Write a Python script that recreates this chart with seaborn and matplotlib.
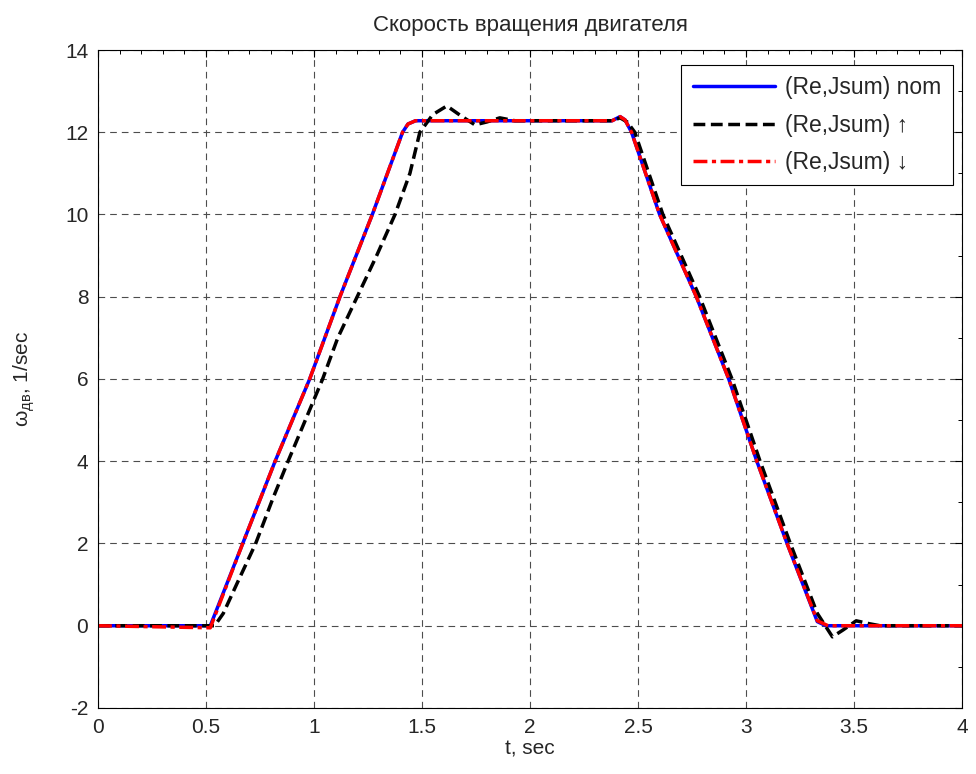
import numpy as np
import pandas as pd
import seaborn as sns
import matplotlib.pyplot as plt
from matplotlib.ticker import FormatStrFormatter, MultipleLocator

# скорость вращения двигателя, точки
t_nom = [0, 0.52, 0.67, 0.82, 0.98, 1.12, 1.27, 1.41, 1.435, 1.47, 2.38, 2.417, 2.44,
         2.47, 2.60, 2.77, 2.92, 3.05, 3.19, 3.33, 3.37, 4.0]
w_nom = [0, 0, 2.0, 4.0, 6.0, 8.0, 10.0, 12.0, 12.2, 12.28, 12.28, 12.38, 12.3,
         12.0, 10.0, 8.0, 6.0, 4.0, 2.0, 0.1, 0, 0]

t_up = [0, 0.54, 0.58, 0.65, 0.73, 0.81, 0.88, 0.96, 1.04, 1.11, 1.20, 1.29, 1.375,
        1.444, 1.49, 1.55, 1.615, 1.68, 1.745, 1.80, 1.86, 1.93, 2.38, 2.417, 2.45,
        2.485, 2.615, 2.785, 2.935, 3.065, 3.205, 3.33, 3.40, 3.45, 3.51, 3.57, 3.62, 4.0]
w_up = [0, 0, 0.3, 1.1, 2.0, 3.1, 4.0, 5.0, 6.0, 7.0, 8.0, 9.0, 10.0,
        11.0, 12.0, 12.43, 12.64, 12.4, 12.18, 12.25, 12.35, 12.28, 12.28, 12.35, 12.25,
        12.0, 10.0, 8.0, 6.0, 4.0, 2.0, 0.3, -0.27, -0.1, 0.12, 0.05, 0, 0]

t_down = [0, 0.52, 0.67, 0.82, 0.98, 1.12, 1.27, 1.41, 1.435, 1.47, 2.38, 2.417, 2.44,
          2.47, 2.60, 2.77, 2.92, 3.05, 3.19, 3.33, 3.38, 4.0]
w_down = [0, -0.05, 2.0, 4.0, 6.0, 8.0, 10.0, 12.0, 12.2, 12.28, 12.28, 12.38, 12.3,
          12.0, 10.0, 8.0, 6.0, 4.0, 2.0, 0.12, 0, 0]

labels = ['(Re,Jsum) nom', '(Re,Jsum) ↑', '(Re,Jsum) ↓']

sns.set_style('white')
plt.rcParams['font.family'] = ['Liberation Sans', 'DejaVu Sans']
plt.rcParams['mathtext.fontset'] = 'custom'
plt.rcParams['mathtext.rm'] = 'Liberation Sans'

fig = plt.figure(figsize=(9.76, 7.74), dpi=100)
ax = fig.add_axes([0.1004, 0.0853, 0.8853, 0.8501])

df_nom = pd.DataFrame({'t': t_nom, 'w': w_nom})
df_up = pd.DataFrame({'t': t_up, 'w': w_up})
df_down = pd.DataFrame({'t': t_down, 'w': w_down})

sns.lineplot(data=df_nom, x='t', y='w', color='#0000ff', lw=2.5, estimator=None,
             sort=False, label=labels[0], ax=ax)
sns.lineplot(data=df_up, x='t', y='w', color='black', lw=2.5, estimator=None,
             sort=False, label=labels[1], ax=ax, linestyle=(0, (3.4, 1.6)))
sns.lineplot(data=df_down, x='t', y='w', color='#ff0000', lw=2.5, estimator=None,
             sort=False, label=labels[2], ax=ax, linestyle=(0, (4, 1.3, 1.2, 1.3)))

ax.set_xlim(0, 4)
ax.set_ylim(-2, 14)
ax.set_xticks(np.arange(0, 4.01, 0.5))
ax.set_yticks(np.arange(-2, 14.1, 2))
ax.xaxis.set_minor_locator(MultipleLocator(0.1))
ax.yaxis.set_minor_locator(MultipleLocator(1))
ax.xaxis.set_major_formatter(FormatStrFormatter('%g'))
ax.yaxis.set_major_formatter(FormatStrFormatter('%g'))
ax.tick_params(which='major', direction='in', length=5, width=0.8, labelsize=15,
               color='black', top=True, right=True, pad=7)
ax.tick_params(which='minor', direction='in', length=2.8, width=0.7, color='black',
               top=True, right=True)
ax.grid(True, which='major', color='0.3', linestyle=(0, (6, 4.5)), lw=0.8)
for s in ax.spines.values():
    s.set_color('black')
    s.set_linewidth(0.8)

ax.set_title('Скорость вращения двигателя', fontsize=16, pad=14)
ax.set_xlabel('t, sec', fontsize=15, labelpad=2)
ax.set_ylabel(r'$\mathregular{\omega_{дв}}$, 1/sec', fontsize=15, labelpad=20)

leg = ax.legend(loc='upper right', bbox_to_anchor=(0.9896, 0.9772), fontsize=16.5,
                fancybox=False, framealpha=1, edgecolor='black', handlelength=3.6,
                borderaxespad=0, labelspacing=0.62, handletextpad=0.45, borderpad=0.5)
leg.get_frame().set_linewidth(0.8)

plt.savefig('out.png', dpi=100)
